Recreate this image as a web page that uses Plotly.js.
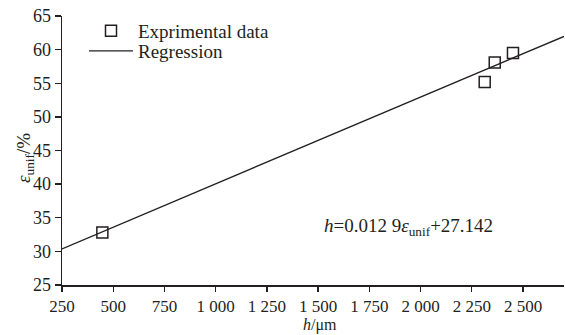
<!DOCTYPE html>
<html>
<head>
<meta charset="utf-8">
<script src="https://cdn.plot.ly/plotly-3.0.1.min.js"></script>
<style>html,body{margin:0;padding:0;background:#fff;}#chart{width:565px;height:335px;}</style>
</head>
<body>
<div id="chart"></div>
<script>
// Experimental data
var expH = [447, 2313, 2362, 2451];
var expEps = [32.8, 55.2, 58.1, 59.5];
// Regression line endpoints
var regH = [250, 2700];
var regEps = [30.37, 61.97];
// Tick labels
var xTickVals = [250, 500, 750, 1000, 1250, 1500, 1750, 2000, 2250, 2500];
var xTickText = ["250", "500", "750", "1 000", "1 250", "1 500", "1 750", "2 000", "2 250", "2 500"];
var yTickVals = [25, 30, 35, 40, 45, 50, 55, 60, 65];

var ink = "#231f20";
var fontFam = "Liberation Serif, Times New Roman, serif";
var W = 565, H = 335, ML = 62, MR = 1, MT = 16, MB = 50;
function px2x(p) { return (p - ML) / (W - ML - MR); }
function px2y(p) { return (H - MB - p) / (H - MT - MB); }

var traces = [
  {
    x: expH, y: expEps, type: "scatter", mode: "markers", name: "Exprimental data",
    marker: {symbol: "square-open", size: 11, color: ink, line: {width: 1.5, color: ink}},
    cliponaxis: false, legend: "legend"
  },
  {
    x: regH, y: regEps, type: "scatter", mode: "lines", name: "Regression",
    line: {color: ink, width: 1.4}, legend: "legend2"
  }
];

var legendFont = {family: fontFam, size: 19, color: ink};
var layout = {
  width: W, height: H,
  margin: {l: ML, r: MR, t: MT, b: MB},
  paper_bgcolor: "#fff", plot_bgcolor: "#fff",
  font: {family: fontFam, size: 18, color: ink},
  showlegend: true,
  legend: {
    x: px2x(84), y: px2y(31), xanchor: "left", yanchor: "middle", itemwidth: 44,
    bgcolor: "rgba(0,0,0,0)", borderwidth: 0, font: legendFont
  },
  legend2: {
    x: px2x(84), y: px2y(51), xanchor: "left", yanchor: "middle", itemwidth: 44,
    bgcolor: "rgba(0,0,0,0)", borderwidth: 0, font: legendFont
  },
  xaxis: {
    range: [250, 2700], tickmode: "array", tickvals: xTickVals, ticktext: xTickText,
    showgrid: false, zeroline: false, showline: true, linecolor: ink, linewidth: 1.5,
    ticks: "outside", ticklen: 5, tickwidth: 1.3, tickcolor: ink,
    tickfont: {family: fontFam, size: 17, color: ink}
  },
  yaxis: {
    range: [25, 65], tickmode: "array", tickvals: yTickVals,
    showgrid: false, zeroline: false, showline: true, linecolor: ink, linewidth: 1.5,
    ticks: "outside", ticklen: 6, tickwidth: 1.3, tickcolor: ink,
    tickfont: {family: fontFam, size: 18, color: ink}
  },
  annotations: [
    {
      x: px2x(322), y: px2y(227), xref: "paper", yref: "paper", showarrow: false,
      text: "<i>h</i>=0.012 9<i>ε</i><sub>unif</sub>+27.142",
      font: {family: fontFam, size: 19, color: ink}, xanchor: "left", yanchor: "middle"
    },
    {
      x: px2x(320), y: 0, xref: "paper", yref: "paper", yshift: -40, showarrow: false,
      text: "<i>h</i>/μm",
      font: {family: fontFam, size: 16, color: ink}, xanchor: "center", yanchor: "middle"
    },
    {
      x: px2x(25), y: px2y(158), xref: "paper", yref: "paper", showarrow: false,
      text: "<i>ε</i><sub>unif</sub>/%", textangle: -90,
      font: {family: fontFam, size: 19, color: ink}, xanchor: "center", yanchor: "middle"
    }
  ]
};

Plotly.newPlot("chart", traces, layout, {staticPlot: true, displayModeBar: false});
</script>
</body>
</html>
